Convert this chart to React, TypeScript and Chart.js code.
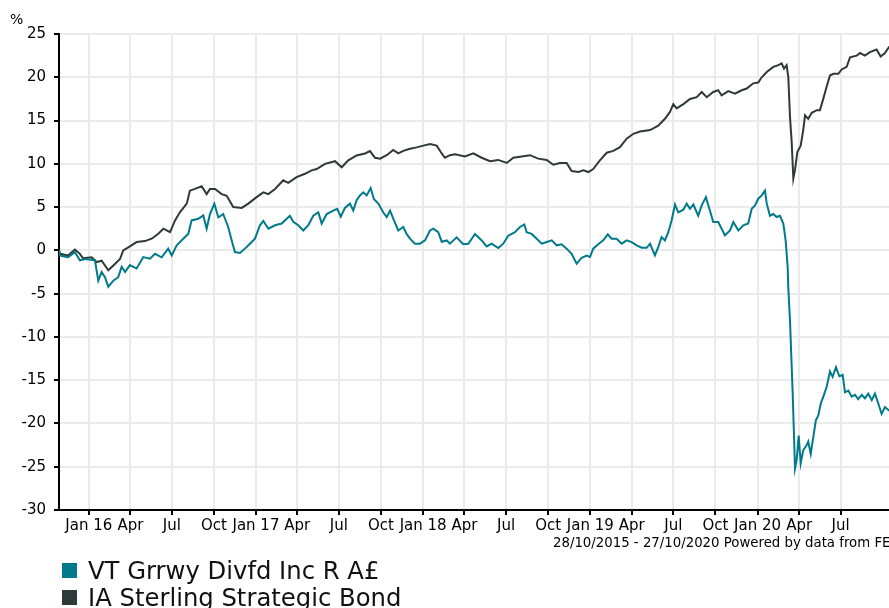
import React, { useEffect, useRef } from 'react';
import { Chart, registerables } from 'chart.js';

Chart.register(...registerables);

// x values are decimal years (28/10/2015 = 2015.822, 27/10/2020 = 2020.822)
const startTime = 2015.822;
const endTime = 2020.822;

const fundName = 'VT Grrwy Divfd Inc R A£';
const sectorName = 'IA Sterling Strategic Bond';
const fundColor = '#007a8a';
const sectorColor = '#2e3a37';

const quarterTicks = [
  2016.0, 2016.249, 2016.497, 2016.749,
  2017.0, 2017.247, 2017.496, 2017.748,
  2018.0, 2018.247, 2018.496, 2018.748,
  2019.0, 2019.247, 2019.496, 2019.748,
  2020.0, 2020.249, 2020.497,
];
const quarterLabels = [
  'Jan 16', 'Apr', 'Jul', 'Oct',
  'Jan 17', 'Apr', 'Jul', 'Oct',
  'Jan 18', 'Apr', 'Jul', 'Oct',
  'Jan 19', 'Apr', 'Jul', 'Oct',
  'Jan 20', 'Apr', 'Jul',
];

const sectorTime = [
  2015.822, 2015.828, 2015.876, 2015.917, 2015.947, 2015.965, 2016.017, 2016.047, 2016.077, 2016.117,
  2016.147, 2016.187, 2016.206, 2016.246, 2016.286, 2016.336, 2016.376, 2016.416, 2016.446, 2016.486,
  2016.516, 2016.545, 2016.586, 2016.605, 2016.635, 2016.675, 2016.705, 2016.725, 2016.755, 2016.795,
  2016.825, 2016.864, 2016.915, 2016.954, 2017.004, 2017.044, 2017.074, 2017.114, 2017.163, 2017.193,
  2017.243, 2017.293, 2017.333, 2017.363, 2017.413, 2017.473, 2017.513, 2017.552, 2017.602, 2017.652,
  2017.682, 2017.712, 2017.742, 2017.782, 2017.821, 2017.851, 2017.881, 2017.921, 2017.961, 2018.001,
  2018.041, 2018.081, 2018.111, 2018.130, 2018.160, 2018.190, 2018.250, 2018.300, 2018.350, 2018.400,
  2018.449, 2018.500, 2018.539, 2018.589, 2018.639, 2018.688, 2018.739, 2018.778, 2018.818, 2018.858,
  2018.888, 2018.928, 2018.958, 2018.988, 2019.017, 2019.057, 2019.098, 2019.137, 2019.177, 2019.217,
  2019.257, 2019.297, 2019.357, 2019.406, 2019.446, 2019.476, 2019.496, 2019.516, 2019.556, 2019.596,
  2019.636, 2019.666, 2019.696, 2019.735, 2019.765, 2019.785, 2019.825, 2019.865, 2019.905, 2019.935,
  2019.974, 2020.004, 2020.025, 2020.055, 2020.094, 2020.124, 2020.144, 2020.158, 2020.174, 2020.184,
  2020.194, 2020.204, 2020.214, 2020.224, 2020.238, 2020.258, 2020.273, 2020.284, 2020.303, 2020.324,
  2020.354, 2020.373, 2020.390, 2020.413, 2020.433, 2020.453, 2020.483, 2020.503, 2020.533, 2020.553,
  2020.593, 2020.613, 2020.642, 2020.672, 2020.712, 2020.736, 2020.762, 2020.786, 2020.822,
];
const sectorValues = [
  0, -0.4, -0.6, 0.1, -0.4, -0.9, -0.8, -1.35, -1.2, -2.3,
  -1.75, -1.0, 0, 0.46, 0.96, 1.07, 1.35, 1.92, 2.5, 2.1,
  3.46, 4.4, 5.4, 6.9, 7.1, 7.4, 6.5, 7.1, 7.1, 6.5,
  6.3, 5.0, 4.9, 5.4, 6.15, 6.7, 6.5, 7.1, 8.1, 7.8,
  8.46, 8.85, 9.24, 9.4, 10.0, 10.3, 9.6, 10.4, 10.97, 11.2,
  11.47, 10.7, 10.6, 11.0, 11.6, 11.2, 11.5, 11.74, 11.9, 12.1,
  12.3, 12.1, 11.2, 10.7, 11.0, 11.1, 10.85, 11.2, 10.7, 10.3,
  10.45, 10.1, 10.7, 10.85, 11.0, 10.6, 10.45, 9.9, 10.1, 10.1,
  9.16, 9.05, 9.24, 9.05, 9.4, 10.4, 11.28, 11.5, 11.93, 12.9,
  13.47, 13.74, 13.9, 14.4, 15.2, 16.0, 16.9, 16.4, 16.9, 17.5,
  17.7, 18.3, 17.7, 18.3, 18.5, 17.9, 18.4, 18.1, 18.5, 18.7,
  19.3, 19.4, 20.0, 20.6, 21.2, 21.4, 21.6, 21.0, 21.4, 20.0,
  15.4, 12.5, 8.3, 9.3, 11.35, 12.1, 13.9, 15.6, 15.2, 15.9,
  16.2, 16.2, 17.3, 18.9, 20.2, 20.4, 20.4, 20.9, 21.2, 22.3,
  22.5, 22.8, 22.5, 22.9, 23.2, 22.4, 22.8, 23.5, 23.8,
];

const fundTime = [
  2015.822, 2015.828, 2015.876, 2015.917, 2015.947, 2015.977, 2016.037, 2016.057, 2016.077, 2016.097,
  2016.117, 2016.147, 2016.176, 2016.197, 2016.217, 2016.246, 2016.286, 2016.326, 2016.366, 2016.396,
  2016.436, 2016.475, 2016.496, 2016.526, 2016.565, 2016.595, 2016.615, 2016.655, 2016.685, 2016.705,
  2016.725, 2016.751, 2016.775, 2016.804, 2016.834, 2016.855, 2016.874, 2016.904, 2016.934, 2016.964,
  2016.994, 2017.024, 2017.044, 2017.074, 2017.114, 2017.154, 2017.184, 2017.203, 2017.223, 2017.253,
  2017.283, 2017.313, 2017.343, 2017.373, 2017.393, 2017.423, 2017.462, 2017.486, 2017.507, 2017.532,
  2017.562, 2017.582, 2017.602, 2017.622, 2017.642, 2017.662, 2017.686, 2017.706, 2017.732, 2017.761,
  2017.782, 2017.802, 2017.825, 2017.851, 2017.881, 2017.901, 2017.921, 2017.951, 2017.981, 2018.011,
  2018.041, 2018.061, 2018.090, 2018.111, 2018.141, 2018.160, 2018.200, 2018.240, 2018.270, 2018.310,
  2018.350, 2018.380, 2018.410, 2018.449, 2018.479, 2018.509, 2018.549, 2018.579, 2018.605, 2018.619,
  2018.649, 2018.679, 2018.709, 2018.739, 2018.769, 2018.799, 2018.828, 2018.858, 2018.888, 2018.918,
  2018.948, 2018.978, 2018.998, 2019.017, 2019.047, 2019.077, 2019.104, 2019.127, 2019.157, 2019.187,
  2019.217, 2019.247, 2019.277, 2019.307, 2019.337, 2019.357, 2019.386, 2019.406, 2019.426, 2019.446,
  2019.466, 2019.486, 2019.506, 2019.526, 2019.556, 2019.576, 2019.596, 2019.616, 2019.645, 2019.666,
  2019.691, 2019.715, 2019.735, 2019.765, 2019.805, 2019.835, 2019.855, 2019.885, 2019.915, 2019.944,
  2019.965, 2019.985, 2020.004, 2020.025, 2020.044, 2020.055, 2020.074, 2020.094, 2020.114, 2020.134,
  2020.154, 2020.168, 2020.180, 2020.184, 2020.194, 2020.210, 2020.224, 2020.234, 2020.246, 2020.258,
  2020.273, 2020.294, 2020.303, 2020.318, 2020.333, 2020.349, 2020.363, 2020.378, 2020.397, 2020.413,
  2020.433, 2020.449, 2020.469, 2020.489, 2020.509, 2020.523, 2020.543, 2020.563, 2020.583, 2020.602,
  2020.623, 2020.642, 2020.662, 2020.683, 2020.702, 2020.722, 2020.742, 2020.762, 2020.786, 2020.822,
];
const fundValues = [
  0, -0.6, -0.8, -0.2, -1.15, -1.0, -1.15, -3.5, -2.5, -3.1,
  -4.2, -3.5, -3.1, -1.9, -2.5, -1.7, -2.1, -0.77, -0.96, -0.4,
  -0.8, 0.2, -0.6, 0.58, 1.35, 1.9, 3.46, 3.65, 4.04, 2.5,
  4.2, 5.4, 3.8, 4.2, 2.7, 1.15, -0.2, -0.3, 0.2, 0.77,
  1.35, 2.9, 3.4, 2.5, 2.9, 3.1, 3.65, 4.0, 3.3, 2.9,
  2.3, 2.9, 4.0, 4.4, 3.1, 4.2, 4.6, 4.8, 3.9, 4.9,
  5.4, 4.6, 5.8, 6.35, 6.7, 6.35, 7.2, 5.9, 5.4, 4.4,
  3.85, 4.6, 3.5, 2.3, 2.7, 1.9, 1.35, 0.77, 0.77, 1.15,
  2.3, 2.5, 2.1, 1.0, 1.15, 0.77, 1.5, 0.7, 0.77, 1.9,
  1.15, 0.46, 0.77, 0.27, 0.77, 1.7, 2.1, 2.7, 3.0, 2.1,
  1.9, 1.35, 0.77, 0.96, 1.15, 0.58, 0.7, 0.2, -0.4, -1.54,
  -0.85, -0.6, -0.77, 0.2, 0.7, 1.15, 1.85, 1.35, 1.35, 0.77,
  1.15, 0.96, 0.58, 0.3, 0.3, 0.77, -0.58, 0.38, 1.54, 1.15,
  2.1, 3.46, 5.3, 4.4, 4.7, 5.4, 4.8, 5.3, 4.0, 5.2,
  6.15, 4.6, 3.27, 3.27, 1.73, 2.3, 3.27, 2.3, 2.9, 3.1,
  4.8, 5.2, 5.97, 6.35, 6.9, 5.4, 4.0, 4.2, 3.85, 4.0,
  3.1, 1.15, -1.9, -4.4, -8.1, -16.5, -25.2, -24.2, -21.4, -24.6,
  -23.1, -22.5, -22.1, -23.5, -21.6, -19.6, -19.1, -17.7, -16.7, -15.8,
  -14.0, -14.6, -13.5, -14.55, -14.4, -16.4, -16.2, -16.9, -16.7, -17.2,
  -16.7, -17.1, -16.55, -17.3, -16.55, -17.7, -18.9, -18.1, -18.5, -18.3,
];

const FONT = "'DejaVu Sans', Verdana, sans-serif";
const CANVAS_W = 910;
const CANVAS_H = 560;

export default function App() {
  const ref = useRef<HTMLCanvasElement>(null);

  useEffect(() => {
    const canvas = ref.current;
    if (!canvas) return;
    const gridOpts = {
      color: '#ebebeb',
      lineWidth: 2,
      tickColor: '#000',
      tickLength: 5,
      tickWidth: 2,
    };
    const chart = new Chart(canvas, {
      type: 'line',
      data: {
        datasets: [
          {
            label: fundName,
            data: fundTime.map((x, i) => ({ x, y: fundValues[i] })),
            borderColor: fundColor,
            backgroundColor: fundColor,
            borderWidth: 2,
            pointRadius: 0,
            tension: 0,
            fill: false,
          },
          {
            label: sectorName,
            data: sectorTime.map((x, i) => ({ x, y: sectorValues[i] })),
            borderColor: sectorColor,
            backgroundColor: sectorColor,
            borderWidth: 2,
            pointRadius: 0,
            tension: 0,
            fill: false,
          },
        ],
      },
      options: {
        animation: false,
        responsive: false,
        maintainAspectRatio: false,
        layout: { padding: { top: 34, right: CANVAS_W - 895, bottom: 0, left: 0 } },
        plugins: { legend: { display: false }, tooltip: { enabled: false } },
        scales: {
          x: {
            type: 'linear',
            min: startTime,
            max: endTime,
            afterBuildTicks: (scale: any) => {
              scale.ticks = quarterTicks.map((v) => ({ value: v }));
            },
            afterFit: (scale: any) => {
              scale.height = CANVAS_H - 510;
            },
            grid: gridOpts,
            border: { color: '#000', width: 2 },
            ticks: {
              autoSkip: false,
              maxRotation: 0,
              minRotation: 0,
              padding: 2,
              color: '#000',
              font: { family: FONT, size: 15 },
              callback: (_v: any, i: number) => quarterLabels[i],
            },
          },
          y: {
            type: 'linear',
            min: -30,
            max: 25,
            afterFit: (scale: any) => {
              scale.width = 59;
            },
            grid: gridOpts,
            border: { color: '#000', width: 2 },
            ticks: {
              stepSize: 5,
              padding: 8,
              color: '#000',
              font: { family: FONT, size: 15 },
            },
          },
        },
      },
    } as any);
    return () => chart.destroy();
  }, []);

  const legendItems = [
    { name: fundName, color: fundColor },
    { name: sectorName, color: sectorColor },
  ];

  return (
    <div
      style={{
        position: 'absolute',
        left: 0,
        top: 0,
        width: 889,
        height: 608,
        overflow: 'hidden',
        background: '#fff',
        fontFamily: FONT,
      }}
    >
      <canvas
        ref={ref}
        width={CANVAS_W}
        height={CANVAS_H}
        style={{ position: 'absolute', left: 0, top: 0, width: CANVAS_W, height: CANVAS_H }}
      />
      <div style={{ position: 'absolute', left: 10, top: 11, fontSize: 14, color: '#000' }}>%</div>
      <div
        style={{
          position: 'absolute',
          left: 553,
          top: 535,
          fontSize: 13.3,
          color: '#000',
          whiteSpace: 'nowrap',
        }}
      >
        28/10/2015 - 27/10/2020 Powered by data from FE
      </div>
      {legendItems.map((item, i) => (
        <div
          key={item.name}
          style={{
            position: 'absolute',
            left: 62,
            top: 558 + i * 27,
            display: 'flex',
            alignItems: 'center',
            whiteSpace: 'nowrap',
          }}
        >
          <span
            style={{
              display: 'inline-block',
              width: 15,
              height: 15,
              background: item.color,
              marginRight: 11,
            }}
          />
          <span style={{ fontSize: 24.3, color: '#111', lineHeight: '25px' }}>{item.name}</span>
        </div>
      ))}
    </div>
  );
}
